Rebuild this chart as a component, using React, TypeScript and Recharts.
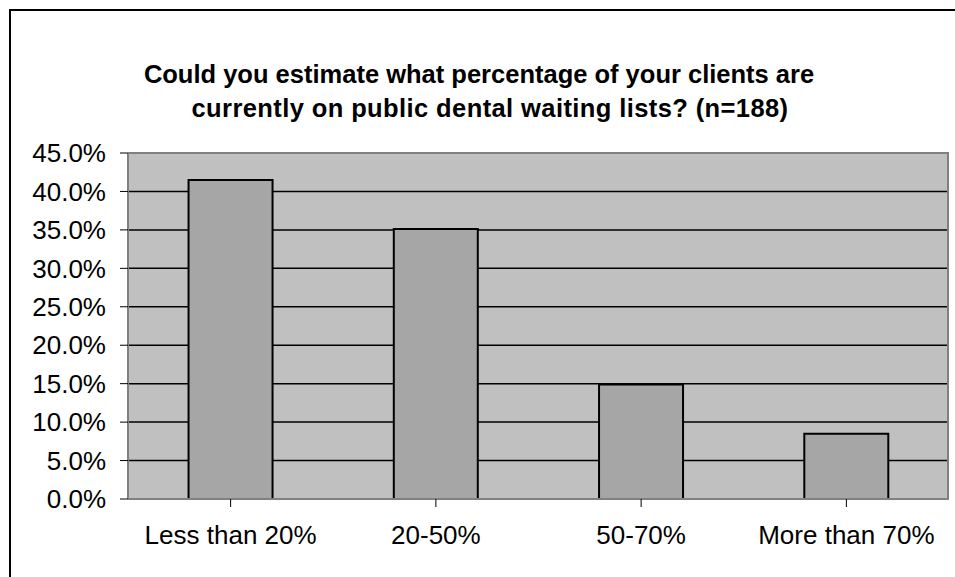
import { Bar, BarChart, CartesianGrid, XAxis, YAxis } from "recharts";

const categories = ["Less than 20%", "20-50%", "50-70%", "More than 70%"];
const shares = [41.5, 35.1, 14.9, 8.5];
const yTicks = [0, 5, 10, 15, 20, 25, 30, 35, 40, 45];

const data = categories.map((name, i) => ({ name, value: shares[i] }));

const FONT = "'Liberation Sans', Arial, sans-serif";

const titleLine = { position: "absolute" as const, textAlign: "center" as const, fontWeight: "bold", fontSize: 25.5, lineHeight: "34px", color: "#000", whiteSpace: "nowrap" as const };

export default function App() {
  return (
    <div style={{ position: "absolute", left: 0, top: 0, width: 955, height: 577, background: "#fff", overflow: "hidden", fontFamily: FONT }}>
      <div style={{ position: "absolute", left: 9, top: 9, width: 980, height: 620, border: "2px solid #000", boxSizing: "border-box" }} />
      <div style={{ ...titleLine, left: 0, top: 57, width: 958 }}>
        Could you estimate what percentage of your clients are
      </div>
      <div style={{ ...titleLine, left: 0, top: 91, width: 980, letterSpacing: "0.4px" }}>
        currently on public dental waiting lists? (n=188)
      </div>
      <BarChart
        width={955}
        height={577}
        data={data}
        margin={{ top: 153, right: 6, bottom: 20, left: 0 }}
        barCategoryGap="29.5%"
        style={{ position: "absolute", left: 0, top: 0 }}
      >
        <CartesianGrid vertical={false} stroke="#000" fill="#C0C0C0" strokeWidth={1.5} />
        <XAxis
          dataKey="name"
          height={58}
          axisLine={{ stroke: "#808080", strokeWidth: 2 }}
          tickLine={{ stroke: "#000" }}
          tickSize={8}
          interval={0}
          tick={{ fill: "#000", fontSize: 26, fontFamily: FONT, dy: 17 }}
          scale="band"
        />
        <YAxis
          width={128}
          domain={[0, 45]}
          ticks={yTicks}
          interval={0}
          tickFormatter={(v: number) => v.toFixed(1) + "%"}
          axisLine={{ stroke: "#808080", strokeWidth: 2 }}
          tickLine={{ stroke: "#000" }}
          tickSize={8}
          tickMargin={14}
          tick={{ fill: "#000", fontSize: 26, fontFamily: FONT }}
        />
        <Bar dataKey="value" fill="#A6A6A6" stroke="#000" strokeWidth={2} isAnimationActive={false} />
      </BarChart>
      <div style={{ position: "absolute", left: 128, top: 152, width: 821, height: 347, borderTop: "2px solid #808080", borderRight: "2px solid #808080", boxSizing: "border-box", pointerEvents: "none" }} />
    </div>
  );
}
